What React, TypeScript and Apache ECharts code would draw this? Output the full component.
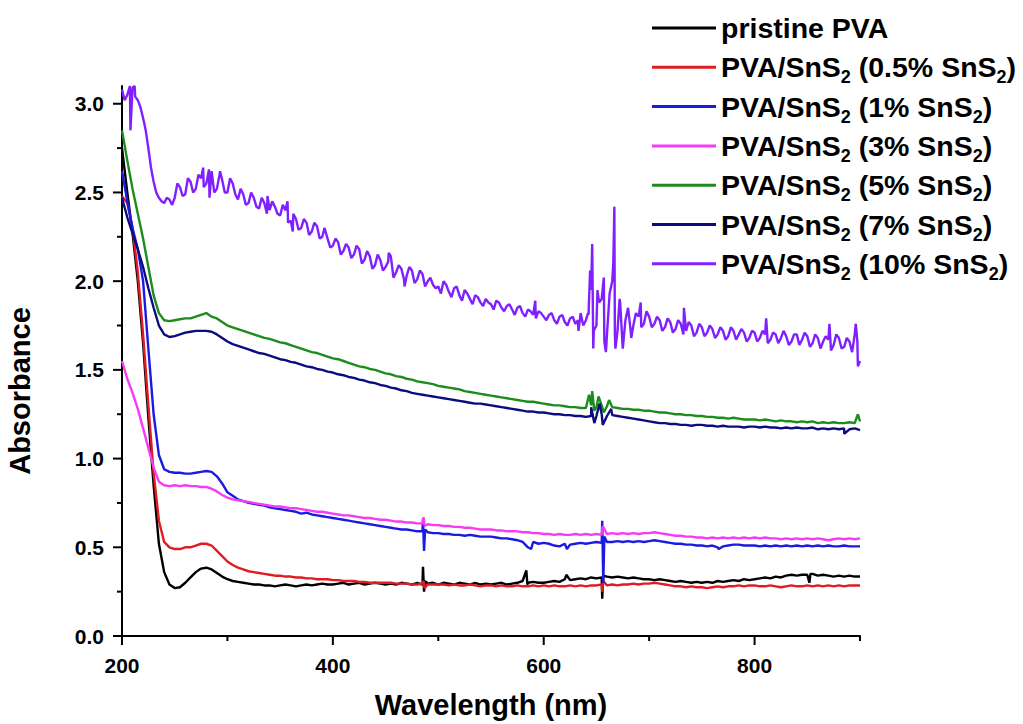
import React, { useEffect, useRef } from "react";
import * as echarts from "echarts";

const WAVELENGTH_NM = [
  200, 205, 210, 215, 220, 225, 230, 235, 240, 245,
  250, 255, 260, 265, 270, 275, 280, 285, 290, 295,
  300, 305, 310, 315, 320, 325, 330, 335, 340, 345,
  350, 355, 360, 365, 370, 375, 380, 385, 390, 395,
  400, 405, 410, 415, 420, 425, 430, 435, 440, 445,
  450, 455, 460, 465, 470, 475, 480, 485, 490, 495,
  500, 505, 510, 515, 520, 525, 530, 535, 540, 545,
  550, 555, 560, 565, 570, 575, 580, 585, 590, 595,
  600, 605, 610, 615, 620, 625, 630, 635, 640, 645,
  650, 655, 660, 665, 670, 675, 680, 685, 690, 695,
  700, 705, 710, 715, 720, 725, 730, 735, 740, 745,
  750, 755, 760, 765, 770, 775, 780, 785, 790, 795,
  800, 805, 810, 815, 820, 825, 830, 835, 840, 845,
  850, 855, 860, 865, 870, 875, 880, 885, 890, 895,
  900,
];

const WAVELENGTH_MID_NM = [
  202.5, 207.5, 212.5, 217.5, 222.5, 227.5, 232.5, 237.5, 242.5, 247.5,
  252.5, 257.5, 262.5, 267.5, 272.5, 277.5, 282.5, 287.5, 292.5, 297.5,
  302.5, 307.5, 312.5, 317.5, 322.5, 327.5, 332.5, 337.5, 342.5, 347.5,
  352.5, 357.5, 362.5, 367.5, 372.5, 377.5, 382.5, 387.5, 392.5, 397.5,
  402.5, 407.5, 412.5, 417.5, 422.5, 427.5, 432.5, 437.5, 442.5, 447.5,
  452.5, 457.5, 462.5, 467.5, 472.5, 477.5, 482.5, 487.5, 492.5, 497.5,
  502.5, 507.5, 512.5, 517.5, 522.5, 527.5, 532.5, 537.5, 542.5, 547.5,
  552.5, 557.5, 562.5, 567.5, 572.5, 577.5, 582.5, 587.5, 592.5, 597.5,
  602.5, 607.5, 612.5, 617.5, 622.5, 627.5, 632.5, 637.5, 642.5, 647.5,
  652.5, 657.5, 662.5, 667.5, 672.5, 677.5, 682.5, 687.5, 692.5, 697.5,
  702.5, 707.5, 712.5, 717.5, 722.5, 727.5, 732.5, 737.5, 742.5, 747.5,
  752.5, 757.5, 762.5, 767.5, 772.5, 777.5, 782.5, 787.5, 792.5, 797.5,
  802.5, 807.5, 812.5, 817.5, 822.5, 827.5, 832.5, 837.5, 842.5, 847.5,
  852.5, 857.5, 862.5, 867.5, 872.5, 877.5, 882.5, 887.5, 892.5, 897.5,
];

const SERIES_NAMES = [
  "pristine PVA",
  "PVA/SnS2 (0.5% SnS2)",
  "PVA/SnS2 (1% SnS2)",
  "PVA/SnS2 (3% SnS2)",
  "PVA/SnS2 (5% SnS2)",
  "PVA/SnS2 (7% SnS2)",
  "PVA/SnS2 (10% SnS2)",
];

const SERIES_COLORS = ["#000000", "#e01b24", "#1a1ae0", "#f53cf5", "#1c8c1c", "#0c0c80", "#8020ff"];

const PRISTINE_PVA = [
  2.75, 2.50, 2.27, 2.00, 1.65, 1.23, 0.85, 0.52, 0.36, 0.29,
  0.27, 0.275, 0.30, 0.33, 0.36, 0.38, 0.385, 0.375, 0.355, 0.335,
  0.32, 0.31, 0.305, 0.30, 0.295, 0.29, 0.29, 0.285, 0.285, 0.28,
  0.285, 0.29, 0.285, 0.28, 0.285, 0.29, 0.285, 0.29, 0.295, 0.29,
  0.29, 0.295, 0.30, 0.29, 0.295, 0.30, 0.29, 0.295, 0.30, 0.295,
  0.29, 0.295, 0.29, 0.30, 0.295, 0.29, 0.30, 0.29, 0.295, 0.30,
  0.29, 0.30, 0.295, 0.29, 0.30, 0.295, 0.29, 0.30, 0.29, 0.295,
  0.29, 0.295, 0.30, 0.29, 0.295, 0.30, 0.31, 0.30, 0.305, 0.30,
  0.30, 0.305, 0.31, 0.305, 0.32, 0.315, 0.32, 0.325, 0.32, 0.33,
  0.325, 0.33, 0.335, 0.33, 0.335, 0.33, 0.325, 0.33, 0.325, 0.32,
  0.32, 0.315, 0.32, 0.315, 0.31, 0.305, 0.31, 0.305, 0.30, 0.305,
  0.30, 0.305, 0.30, 0.31, 0.305, 0.31, 0.315, 0.31, 0.32, 0.315,
  0.32, 0.325, 0.33, 0.325, 0.335, 0.33, 0.34, 0.345, 0.34, 0.345,
  0.345, 0.35, 0.34, 0.345, 0.34, 0.335, 0.34, 0.335, 0.34, 0.335,
  0.335,
];
const PRISTINE_PVA_SPIKES = [
  [485.5, 0.39], [486.5, 0.25], [487.5, 0.31], [583.5, 0.37], [584.5, 0.29],
  [621.5, 0.345], [655.5, 0.21], [656.5, 0.34], [852, 0.30], [853, 0.35],
];

const SNS2_05 = [
  2.48, 2.44, 2.30, 2.05, 1.70, 1.30, 0.92, 0.65, 0.53, 0.50,
  0.49, 0.49, 0.50, 0.50, 0.51, 0.52, 0.52, 0.51, 0.48, 0.45,
  0.42, 0.40, 0.385, 0.375, 0.365, 0.36, 0.355, 0.35, 0.345, 0.34,
  0.34, 0.335, 0.335, 0.33, 0.33, 0.325, 0.325, 0.32, 0.32, 0.32,
  0.315, 0.315, 0.31, 0.31, 0.31, 0.305, 0.305, 0.30, 0.30, 0.30,
  0.30, 0.30, 0.295, 0.295, 0.295, 0.29, 0.29, 0.295, 0.29, 0.29,
  0.29, 0.29, 0.285, 0.29, 0.285, 0.285, 0.29, 0.285, 0.28, 0.285,
  0.285, 0.28, 0.285, 0.28, 0.28, 0.285, 0.28, 0.28, 0.285, 0.28,
  0.285, 0.28, 0.285, 0.28, 0.28, 0.285, 0.28, 0.285, 0.28, 0.285,
  0.285, 0.29, 0.285, 0.29, 0.285, 0.29, 0.29, 0.295, 0.29, 0.295,
  0.295, 0.30, 0.295, 0.29, 0.285, 0.28, 0.28, 0.275, 0.28, 0.275,
  0.275, 0.27, 0.275, 0.28, 0.275, 0.28, 0.28, 0.285, 0.28, 0.285,
  0.285, 0.28, 0.28, 0.285, 0.28, 0.275, 0.28, 0.285, 0.28, 0.28,
  0.285, 0.28, 0.285, 0.28, 0.285, 0.28, 0.285, 0.28, 0.285, 0.285,
  0.285,
];
const SNS2_05_SPIKES = [[486, 0.31], [487, 0.27], [655.5, 0.25], [656.5, 0.31]];

const SNS2_1 = [
  2.62, 2.45, 2.30, 2.18, 2.00, 1.62, 1.25, 1.02, 0.94, 0.925,
  0.92, 0.92, 0.915, 0.915, 0.92, 0.925, 0.93, 0.925, 0.90, 0.86,
  0.81, 0.79, 0.77, 0.76, 0.75, 0.745, 0.74, 0.735, 0.725, 0.72,
  0.715, 0.71, 0.705, 0.70, 0.69, 0.695, 0.685, 0.68, 0.675, 0.67,
  0.665, 0.66, 0.655, 0.65, 0.645, 0.64, 0.635, 0.63, 0.625, 0.62,
  0.615, 0.61, 0.605, 0.60, 0.60, 0.595, 0.59, 0.59, 0.585, 0.58,
  0.58, 0.575, 0.575, 0.57, 0.57, 0.565, 0.57, 0.565, 0.56, 0.56,
  0.56, 0.555, 0.55, 0.55, 0.545, 0.54, 0.53, 0.50, 0.53, 0.52,
  0.525, 0.52, 0.51, 0.505, 0.52, 0.515, 0.52, 0.525, 0.52, 0.525,
  0.53, 0.525, 0.53, 0.53, 0.535, 0.53, 0.535, 0.53, 0.535, 0.53,
  0.535, 0.54, 0.535, 0.53, 0.525, 0.52, 0.52, 0.515, 0.515, 0.51,
  0.51, 0.505, 0.51, 0.50, 0.505, 0.51, 0.515, 0.515, 0.51, 0.51,
  0.51, 0.505, 0.51, 0.505, 0.51, 0.505, 0.51, 0.505, 0.51, 0.505,
  0.51, 0.505, 0.51, 0.505, 0.51, 0.505, 0.505, 0.51, 0.505, 0.505,
  0.505,
];
const SNS2_1_SPIKES = [
  [485.5, 0.66], [486.5, 0.48], [487.5, 0.6], [588, 0.49], [622, 0.49],
  [655.5, 0.65], [656.5, 0.30], [657.5, 0.56], [766, 0.49],
];

const SNS2_3 = [
  1.55, 1.45, 1.37, 1.28, 1.17, 1.06, 0.95, 0.87, 0.85, 0.845,
  0.85, 0.845, 0.85, 0.845, 0.845, 0.84, 0.84, 0.83, 0.815, 0.795,
  0.78, 0.77, 0.765, 0.76, 0.755, 0.75, 0.745, 0.74, 0.735, 0.73,
  0.73, 0.725, 0.72, 0.72, 0.715, 0.71, 0.705, 0.70, 0.70, 0.695,
  0.69, 0.685, 0.68, 0.68, 0.675, 0.67, 0.665, 0.665, 0.66, 0.655,
  0.655, 0.65, 0.645, 0.645, 0.64, 0.64, 0.635, 0.635, 0.63, 0.625,
  0.625, 0.62, 0.62, 0.615, 0.615, 0.61, 0.61, 0.605, 0.60, 0.60,
  0.60, 0.595, 0.595, 0.59, 0.59, 0.59, 0.585, 0.585, 0.58, 0.58,
  0.575, 0.575, 0.57, 0.575, 0.57, 0.57, 0.575, 0.57, 0.575, 0.57,
  0.575, 0.57, 0.575, 0.58, 0.575, 0.58, 0.575, 0.58, 0.575, 0.58,
  0.58, 0.585, 0.58, 0.575, 0.57, 0.565, 0.565, 0.56, 0.56, 0.555,
  0.555, 0.55, 0.555, 0.55, 0.555, 0.55, 0.555, 0.55, 0.555, 0.55,
  0.555, 0.55, 0.555, 0.55, 0.55, 0.545, 0.55, 0.545, 0.55, 0.545,
  0.55, 0.545, 0.55, 0.545, 0.54, 0.545, 0.55, 0.545, 0.55, 0.545,
  0.55,
];
const SNS2_3_SPIKES = [[486, 0.67], [487, 0.62], [656, 0.62]];

const SNS2_5 = [
  2.85, 2.68, 2.52, 2.38, 2.24, 2.08, 1.92, 1.82, 1.78, 1.775,
  1.78, 1.785, 1.79, 1.79, 1.80, 1.81, 1.82, 1.80, 1.79, 1.77,
  1.75, 1.74, 1.73, 1.72, 1.71, 1.70, 1.69, 1.68, 1.675, 1.665,
  1.655, 1.65, 1.64, 1.63, 1.62, 1.61, 1.60, 1.595, 1.585, 1.575,
  1.565, 1.56, 1.55, 1.54, 1.53, 1.52, 1.515, 1.505, 1.50, 1.49,
  1.48, 1.475, 1.465, 1.46, 1.45, 1.445, 1.435, 1.43, 1.425, 1.42,
  1.41, 1.405, 1.40, 1.395, 1.39, 1.38, 1.375, 1.37, 1.365, 1.36,
  1.355, 1.35, 1.345, 1.34, 1.335, 1.33, 1.325, 1.32, 1.32, 1.315,
  1.31, 1.305, 1.30, 1.30, 1.295, 1.29, 1.29, 1.285, 1.285, 1.30,
  1.29, 1.30, 1.295, 1.29, 1.285, 1.28, 1.28, 1.275, 1.275, 1.27,
  1.27, 1.265, 1.26, 1.26, 1.255, 1.25, 1.25, 1.245, 1.245, 1.24,
  1.24, 1.235, 1.235, 1.23, 1.23, 1.225, 1.23, 1.225, 1.22, 1.22,
  1.22, 1.215, 1.22, 1.215, 1.21, 1.215, 1.21, 1.21, 1.205, 1.21,
  1.205, 1.21, 1.20, 1.205, 1.20, 1.205, 1.20, 1.20, 1.205, 1.20,
  1.21,
];
const SNS2_5_SPIKES = [
  [643, 1.36], [646, 1.38], [648, 1.27], [652, 1.35], [657, 1.26], [662, 1.33], [898, 1.25],
];

const SNS2_7 = [
  2.47, 2.36, 2.27, 2.18, 2.08, 1.96, 1.85, 1.75, 1.70, 1.685,
  1.69, 1.70, 1.71, 1.715, 1.72, 1.72, 1.72, 1.715, 1.70, 1.68,
  1.66, 1.645, 1.635, 1.625, 1.615, 1.605, 1.595, 1.59, 1.58, 1.57,
  1.56, 1.555, 1.545, 1.54, 1.53, 1.52, 1.515, 1.505, 1.50, 1.49,
  1.485, 1.475, 1.47, 1.46, 1.455, 1.445, 1.44, 1.43, 1.425, 1.415,
  1.41, 1.40, 1.395, 1.385, 1.38, 1.37, 1.365, 1.36, 1.355, 1.35,
  1.345, 1.34, 1.335, 1.33, 1.325, 1.32, 1.315, 1.31, 1.31, 1.305,
  1.30, 1.295, 1.29, 1.285, 1.28, 1.275, 1.27, 1.265, 1.265, 1.26,
  1.26, 1.255, 1.25, 1.25, 1.245, 1.245, 1.24, 1.24, 1.235, 1.24,
  1.24, 1.25, 1.24, 1.245, 1.24, 1.235, 1.23, 1.225, 1.22, 1.215,
  1.21, 1.205, 1.20, 1.20, 1.195, 1.195, 1.19, 1.19, 1.185, 1.19,
  1.19, 1.185, 1.185, 1.18, 1.185, 1.18, 1.18, 1.18, 1.175, 1.18,
  1.18, 1.175, 1.18, 1.175, 1.175, 1.17, 1.175, 1.17, 1.175, 1.17,
  1.17, 1.175, 1.165, 1.17, 1.165, 1.17, 1.165, 1.17, 1.165, 1.17,
  1.16,
];
const SNS2_7_SPIKES = [[645, 1.29], [648, 1.20], [653, 1.31], [656, 1.19], [664, 1.28], [885, 1.14]];

const SNS2_10 = [
  3.08, 3.05, 3.09, 3.02, 2.92, 2.75, 2.56, 2.47, 2.44, 2.46,
  2.47, 2.53, 2.49, 2.56, 2.52, 2.58, 2.55, 2.62, 2.52, 2.57,
  2.50, 2.55, 2.46, 2.49, 2.44, 2.47, 2.41, 2.44, 2.40, 2.42,
  2.37, 2.40, 2.34, 2.35, 2.30, 2.33, 2.28, 2.31, 2.25, 2.24,
  2.20, 2.22, 2.17, 2.19, 2.15, 2.18, 2.12, 2.14, 2.09, 2.12,
  2.08, 2.14, 2.05, 2.07, 2.03, 2.06, 2.01, 2.04, 2.00, 1.98,
  1.97, 2.00, 1.94, 1.96, 1.92, 1.95, 1.90, 1.92, 1.88, 1.90,
  1.87, 1.89, 1.85, 1.86, 1.84, 1.85, 1.82, 1.84, 1.81, 1.83,
  1.80, 1.81, 1.78, 1.80, 1.77, 1.79, 1.76, 1.82, 1.78, 1.95,
  1.75, 1.90, 1.70, 2.00, 1.72, 1.62, 1.85, 1.75, 1.80, 1.76,
  1.80, 1.76, 1.78, 1.74, 1.77, 1.73, 1.76, 1.72, 1.75, 1.71,
  1.74, 1.71, 1.73, 1.70, 1.72, 1.69, 1.72, 1.70, 1.71, 1.68,
  1.71, 1.68, 1.70, 1.67, 1.70, 1.68, 1.69, 1.66, 1.70, 1.67,
  1.69, 1.65, 1.68, 1.66, 1.67, 1.64, 1.68, 1.63, 1.66, 1.70,
  1.55,
];
const SNS2_10_MID = [
  3.02, 3.10, 3.04, 2.98, 2.85, 2.64, 2.50, 2.45, 2.47, 2.43,
  2.55, 2.48, 2.58, 2.50, 2.60, 2.53, 2.63, 2.50, 2.60, 2.50,
  2.58, 2.49, 2.52, 2.43, 2.50, 2.42, 2.47, 2.38, 2.45, 2.38,
  2.43, 2.33, 2.38, 2.29, 2.35, 2.26, 2.33, 2.24, 2.29, 2.19,
  2.24, 2.15, 2.21, 2.13, 2.20, 2.10, 2.17, 2.07, 2.15, 2.06,
  2.11, 2.02, 2.09, 2.01, 2.08, 1.99, 2.06, 1.97, 2.02, 1.96,
  1.93, 1.98, 1.91, 1.97, 1.89, 1.93, 1.87, 1.91, 1.86, 1.88,
  1.84, 1.88, 1.83, 1.87, 1.81, 1.86, 1.80, 1.83, 1.79, 1.82,
  1.78, 1.82, 1.76, 1.81, 1.75, 1.80, 1.78, 1.75, 1.81, 1.72,
  1.88, 1.66, 1.93, 1.70, 1.88, 1.78, 1.72, 1.82, 1.74, 1.83,
  1.74, 1.80, 1.72, 1.79, 1.71, 1.78, 1.70, 1.77, 1.69, 1.76,
  1.69, 1.75, 1.68, 1.74, 1.67, 1.74, 1.67, 1.73, 1.66, 1.72,
  1.66, 1.72, 1.65, 1.71, 1.65, 1.72, 1.64, 1.70, 1.64, 1.71,
  1.63, 1.70, 1.62, 1.69, 1.61, 1.70, 1.62, 1.68, 1.60, 1.66,
];
const SNS2_10_SPIKES = [
  [208, 2.85], [212, 3.1], [277, 2.64], [283, 2.47], [293, 2.62], [338, 2.48], [357, 2.45],
  [362, 2.28], [392, 2.3], [453, 2.16], [468, 1.97], [592, 1.89], [633, 1.72], [642, 1.82],
  [644, 2.06], [646, 2.21], [647, 1.62], [651, 1.95], [657, 2.02], [659, 1.6], [663, 1.93],
  [666, 2.1], [667, 2.42], [668, 1.62], [672, 1.9], [683, 1.68], [692, 1.88], [733, 1.85],
  [811, 1.79], [871, 1.76], [896, 1.76], [898, 1.52],
];

const SERIES_VALUES = [PRISTINE_PVA, SNS2_05, SNS2_1, SNS2_3, SNS2_5, SNS2_7, SNS2_10];
const SERIES_SPIKES = [
  PRISTINE_PVA_SPIKES, SNS2_05_SPIKES, SNS2_1_SPIKES, SNS2_3_SPIKES,
  SNS2_5_SPIKES, SNS2_7_SPIKES, SNS2_10_SPIKES,
];
const SERIES_MID = [null, null, null, null, null, null, SNS2_10_MID];

const X_MAJOR = [200, 400, 600, 800];
const X_MINOR = [300, 500, 700, 900];
const Y_MAJOR = [0, 0.5, 1, 1.5, 2, 2.5, 3];
const Y_MINOR = [0.25, 0.75, 1.25, 1.75, 2.25, 2.75];

const FONT = "'Liberation Sans', Arial, sans-serif";

function buildPoints(values: number[], spikes: number[][], mid: number[] | null) {
  let pts = WAVELENGTH_NM.map((w, i) => [w, values[i]]);
  if (mid) pts = pts.concat(WAVELENGTH_MID_NM.map((w, i) => [w, mid[i]]));
  return pts.concat(spikes).sort((a, b) => a[0] - b[0]);
}

function legendLabel(name: string) {
  return name
    .split("SnS2")
    .map((part) => (part ? `{m|${part}}` : ""))
    .join("{m|SnS}{s|2}");
}

export default function App() {
  const ref = useRef<HTMLDivElement>(null);

  useEffect(() => {
    if (!ref.current) return;
    const chart = echarts.init(ref.current, undefined, { renderer: "svg" });
    const axisLineStyle = { color: "#000", width: 2 };

    // tick marks: [x, y, kind] kind 0 = x major, 1 = x minor, 2 = y major, 3 = y minor
    const tickData = [
      ...X_MAJOR.map((v) => [v, 0, 0]),
      ...X_MINOR.map((v) => [v, 0, 1]),
      ...Y_MAJOR.map((v) => [200, v, 2]),
      ...Y_MINOR.map((v) => [200, v, 3]),
    ];

    const option: any = {
      animation: false,
      backgroundColor: "#fff",
      grid: {
        left: 122,
        right: 163,
        top: 86,
        bottom: 88,
        containLabel: false,
        outerBoundsMode: "none",
      },
      legend: {
        orient: "vertical",
        left: 652,
        top: 9,
        padding: 0,
        itemWidth: 64,
        itemHeight: 3,
        itemGap: 1.3,
        icon: "rect",
        selectedMode: false,
        data: SERIES_NAMES,
        formatter: legendLabel,
        textStyle: {
          fontFamily: FONT,
          fontSize: 28.5,
          fontWeight: "bold",
          color: "#000",
          lineHeight: 38,
          rich: {
            m: {
              fontFamily: FONT,
              fontSize: 28.5,
              fontWeight: "bold",
              color: "#000",
              lineHeight: 38,
            },
            s: {
              fontFamily: FONT,
              fontSize: 18,
              fontWeight: "bold",
              color: "#000",
              lineHeight: 16,
              verticalAlign: "bottom",
            },
          },
        },
      },
      xAxis: {
        type: "value",
        min: 200,
        max: 900,
        position: "bottom",
        axisLine: { show: true, onZero: false, lineStyle: axisLineStyle },
        axisTick: { show: false },
        axisLabel: {
          customValues: X_MAJOR,
          fontFamily: FONT,
          fontSize: 21,
          fontWeight: "bold",
          color: "#000",
          margin: 19,
        },
        splitLine: { show: false },
        name: "Wavelength (nm)",
        nameLocation: "middle",
        nameGap: 54,
        nameTextStyle: { fontFamily: FONT, fontSize: 29, fontWeight: "bold", color: "#000" },
      },
      yAxis: {
        type: "value",
        min: 0,
        max: 3.1,
        position: "left",
        axisLine: { show: true, onZero: false, lineStyle: axisLineStyle },
        axisTick: { show: false },
        axisLabel: {
          customValues: Y_MAJOR,
          formatter: (v: number) => v.toFixed(1),
          fontFamily: FONT,
          fontSize: 21,
          fontWeight: "bold",
          color: "#000",
          margin: 18,
        },
        splitLine: { show: false },
        name: "Absorbance",
        nameLocation: "middle",
        nameGap: 88,
        nameTextStyle: {
          fontFamily: FONT,
          fontSize: 29,
          fontWeight: "bold",
          color: "#000",
          padding: [0, 60, 0, 0],
        },
      },
      series: [
        ...SERIES_NAMES.map((name, i) => ({
          name,
          type: "line",
          data: buildPoints(SERIES_VALUES[i], SERIES_SPIKES[i], SERIES_MID[i]),
          showSymbol: false,
          symbol: "none",
          smooth: false,
          clip: true,
          color: SERIES_COLORS[i],
          itemStyle: { color: SERIES_COLORS[i] },
          lineStyle: { color: SERIES_COLORS[i], width: 2.4 },
        })),
        {
          name: "axis ticks",
          type: "custom",
          silent: true,
          clip: false,
          z: 10,
          data: tickData,
          renderItem: (_params: any, api: any) => {
            const p = api.coord([api.value(0), api.value(1)]);
            const kind = api.value(2);
            const len = kind === 0 || kind === 2 ? 9 : 5;
            const shape =
              kind < 2
                ? { x1: p[0], y1: p[1], x2: p[0], y2: p[1] + len }
                : { x1: p[0] - len, y1: p[1], x2: p[0], y2: p[1] };
            return { type: "line", shape, style: { stroke: "#000", lineWidth: 2 } };
          },
        },
      ],
    };
    chart.setOption(option);
    return () => chart.dispose();
  }, []);

  return (
    <div
      ref={ref}
      style={{ position: "fixed", left: 0, top: 0, width: 1023, height: 724, background: "#fff" }}
    />
  );
}
